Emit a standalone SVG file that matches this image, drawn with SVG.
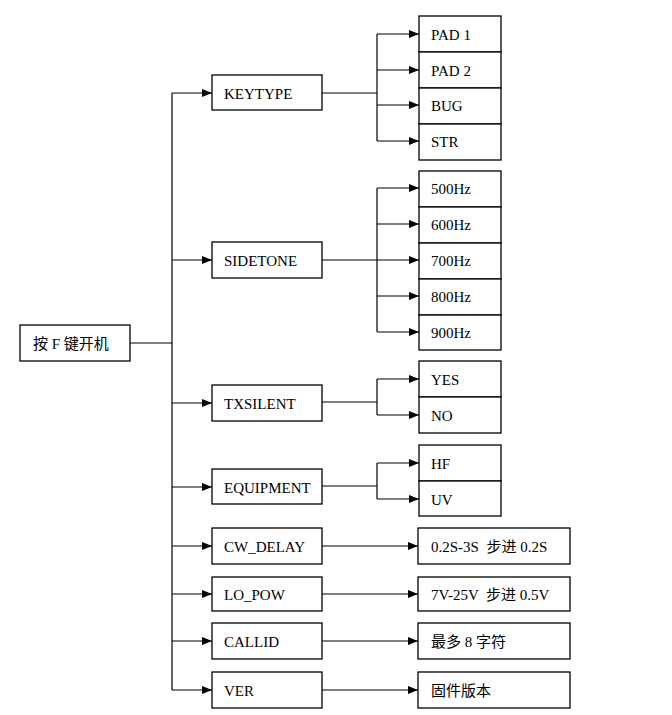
<svg xmlns="http://www.w3.org/2000/svg" width="672" height="715" viewBox="0 0 672 715">
<style>
rect.n{fill:#fff;stroke:#000;stroke-width:1.3}
text{font-family:"Liberation Serif","Noto Sans CJK SC",serif;font-size:15px;fill:#000;white-space:pre}
.c line{stroke:#000;stroke-width:1.2;fill:none}
</style>
<defs>
<marker id="a" markerWidth="10" markerHeight="8" refX="10" refY="4" orient="auto" markerUnits="userSpaceOnUse">
<path d="M0,0L10,4L0,8z" fill="#000"/>
</marker>
</defs>
<rect x="0" y="0" width="672" height="715" fill="#fff"/>
<g class="c" id="connectors">
<line x1="130" y1="343" x2="172" y2="343"/>
<line x1="172" y1="93" x2="172" y2="690"/>
<line x1="172" y1="93" x2="212" y2="93" marker-end="url(#a)"/>
<line x1="172" y1="260" x2="212" y2="260" marker-end="url(#a)"/>
<line x1="172" y1="403" x2="212" y2="403" marker-end="url(#a)"/>
<line x1="172" y1="487" x2="212" y2="487" marker-end="url(#a)"/>
<line x1="172" y1="546" x2="212" y2="546" marker-end="url(#a)"/>
<line x1="172" y1="594" x2="212" y2="594" marker-end="url(#a)"/>
<line x1="172" y1="641" x2="212" y2="641" marker-end="url(#a)"/>
<line x1="172" y1="690" x2="212" y2="690" marker-end="url(#a)"/>
<line x1="322" y1="93" x2="377" y2="93"/>
<line x1="377" y1="34" x2="377" y2="141"/>
<line x1="377" y1="34" x2="419" y2="34" marker-end="url(#a)"/>
<line x1="377" y1="70" x2="419" y2="70" marker-end="url(#a)"/>
<line x1="377" y1="105" x2="419" y2="105" marker-end="url(#a)"/>
<line x1="377" y1="141" x2="419" y2="141" marker-end="url(#a)"/>
<line x1="322" y1="260" x2="377" y2="260"/>
<line x1="377" y1="188" x2="377" y2="332"/>
<line x1="377" y1="188" x2="419" y2="188" marker-end="url(#a)"/>
<line x1="377" y1="224" x2="419" y2="224" marker-end="url(#a)"/>
<line x1="377" y1="260" x2="419" y2="260" marker-end="url(#a)"/>
<line x1="377" y1="296" x2="419" y2="296" marker-end="url(#a)"/>
<line x1="377" y1="332" x2="419" y2="332" marker-end="url(#a)"/>
<line x1="322" y1="402" x2="377" y2="402"/>
<line x1="377" y1="379" x2="377" y2="415"/>
<line x1="377" y1="379" x2="419" y2="379" marker-end="url(#a)"/>
<line x1="377" y1="415" x2="419" y2="415" marker-end="url(#a)"/>
<line x1="322" y1="486" x2="377" y2="486"/>
<line x1="377" y1="463" x2="377" y2="499"/>
<line x1="377" y1="463" x2="419" y2="463" marker-end="url(#a)"/>
<line x1="377" y1="499" x2="419" y2="499" marker-end="url(#a)"/>
<line x1="322" y1="546" x2="418" y2="546" marker-end="url(#a)"/>
<line x1="322" y1="594" x2="418" y2="594" marker-end="url(#a)"/>
<line x1="322" y1="641" x2="418" y2="641" marker-end="url(#a)"/>
<line x1="322" y1="690" x2="418" y2="690" marker-end="url(#a)"/>
</g>
<g id="root"><rect class="n" x="20" y="325" width="110" height="36"/><text x="33" y="349">按 F 键开机</text></g>
<g id="keytype"><rect class="n" x="212" y="75" width="110" height="35"/><text x="224" y="99">KEYTYPE</text></g>
<g id="sidetone"><rect class="n" x="212" y="242" width="110" height="36"/><text x="224" y="266">SIDETONE</text></g>
<g id="txsilent"><rect class="n" x="212" y="385" width="110" height="36"/><text x="224" y="409">TXSILENT</text></g>
<g id="equipment"><rect class="n" x="212" y="469" width="110" height="35"/><text x="224" y="493">EQUIPMENT</text></g>
<g id="cw_delay"><rect class="n" x="212" y="528" width="110" height="36"/><text x="224" y="552">CW_DELAY</text></g>
<g id="lo_pow"><rect class="n" x="212" y="577" width="110" height="34"/><text x="224" y="600">LO_POW</text></g>
<g id="callid"><rect class="n" x="212" y="623" width="110" height="36"/><text x="224" y="647">CALLID</text></g>
<g id="ver"><rect class="n" x="212" y="672" width="110" height="36"/><text x="224" y="696">VER</text></g>
<g id="pad1"><rect class="n" x="419" y="16" width="82" height="36"/><text x="431" y="40">PAD 1</text></g>
<g id="pad2"><rect class="n" x="419" y="52" width="82" height="36"/><text x="431" y="76">PAD 2</text></g>
<g id="bug"><rect class="n" x="419" y="88" width="82" height="36"/><text x="431" y="111">BUG</text></g>
<g id="str"><rect class="n" x="419" y="124" width="82" height="36"/><text x="431" y="147">STR</text></g>
<g id="hz500"><rect class="n" x="419" y="171" width="82" height="36"/><text x="431" y="194">500Hz</text></g>
<g id="hz600"><rect class="n" x="419" y="207" width="82" height="36"/><text x="431" y="230">600Hz</text></g>
<g id="hz700"><rect class="n" x="419" y="243" width="82" height="36"/><text x="431" y="266">700Hz</text></g>
<g id="hz800"><rect class="n" x="419" y="279" width="82" height="36"/><text x="431" y="302">800Hz</text></g>
<g id="hz900"><rect class="n" x="419" y="315" width="82" height="35"/><text x="431" y="338">900Hz</text></g>
<g id="yes"><rect class="n" x="419" y="361" width="82" height="36"/><text x="431" y="385">YES</text></g>
<g id="no"><rect class="n" x="419" y="397" width="82" height="36"/><text x="431" y="421">NO</text></g>
<g id="hf"><rect class="n" x="419" y="445" width="82" height="36"/><text x="431" y="469">HF</text></g>
<g id="uv"><rect class="n" x="419" y="481" width="82" height="35"/><text x="431" y="505">UV</text></g>
<g id="delayval"><rect class="n" x="418" y="528" width="152" height="36"/><text x="431" y="552">0.2S-3S  步进 0.2S</text></g>
<g id="powval"><rect class="n" x="418" y="577" width="152" height="34"/><text x="431" y="600">7V-25V  步进 0.5V</text></g>
<g id="callval"><rect class="n" x="418" y="623" width="152" height="36"/><text x="431" y="647">最多 8 字符</text></g>
<g id="verval"><rect class="n" x="418" y="672" width="152" height="36"/><text x="431" y="696">固件版本</text></g>
</svg>
